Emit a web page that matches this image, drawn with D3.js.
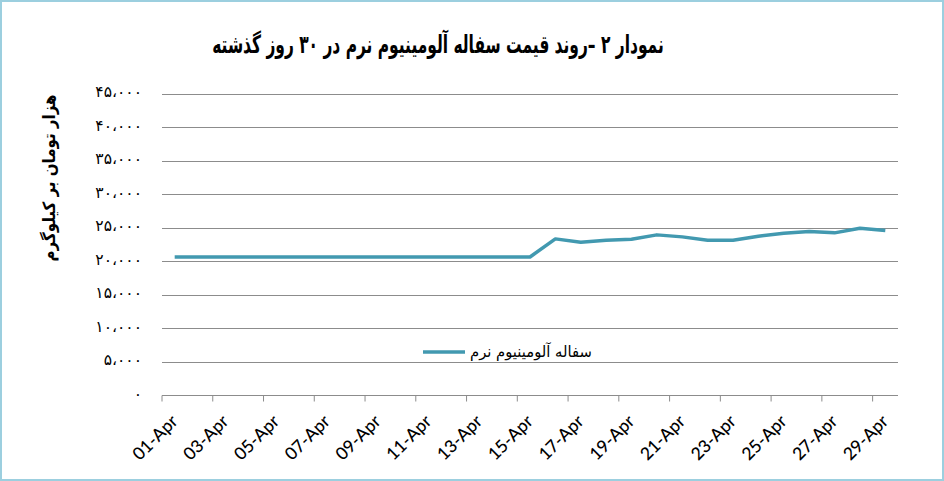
<!DOCTYPE html>
<html><head><meta charset="utf-8">
<script src="https://cdn.jsdelivr.net/npm/d3@7"></script>
<style>
body{margin:0;background:#fff;}
svg{display:block;}
</style></head>
<body>
<svg id="chart" width="944" height="481"></svg>
<script>
const dates = ["01-Apr","02-Apr","03-Apr","04-Apr","05-Apr","06-Apr","07-Apr","08-Apr","09-Apr","10-Apr",
"11-Apr","12-Apr","13-Apr","14-Apr","15-Apr","16-Apr","17-Apr","18-Apr","19-Apr","20-Apr",
"21-Apr","22-Apr","23-Apr","24-Apr","25-Apr","26-Apr","27-Apr","28-Apr","29-Apr"];
const prices = [20600,20600,20600,20600,20600,20600,20600,20600,20600,20600,
20600,20600,20600,20600,20600,23300,22800,23100,23250,23900,
23600,23100,23100,23700,24150,24400,24200,24900,24550];
const yTicks = [0,5000,10000,15000,20000,25000,30000,35000,40000,45000];
const labelDates = dates.filter((d,i)=>i%2===0);
const titleText = "نمودار ۲ –روند قیمت سفاله آلومینیوم نرم در ۳۰ روز گذشته";
const yTitle = "هزار تومان بر کیلوگرم";
const seriesName = "سفاله آلومینیوم نرم";

const svg = d3.select("#chart");
const W=944,H=481;
const pL=162,pR=898,pT=93.5,pB=395;
const persian = s => s.replace(/\d/g, d => "۰۱۲۳۴۵۶۷۸۹"[+d]);
const fmt = v => persian(d3.format(",")(v).replace(/,/g,"،"));

function fitScale(sel, target, tx, ty, rot){
  const w = sel.node().getComputedTextLength();
  const s = w>0 ? target/w : 1;
  sel.attr("transform", `translate(${tx},${ty}) rotate(${rot}) scale(${s},1)`);
}

// border
svg.append("rect").attr("x",1).attr("y",1).attr("width",W-2).attr("height",H-2)
  .attr("fill","#fff").attr("stroke","#9CCFDF").attr("stroke-width",2);

const x = d3.scaleBand().domain(dates).range([pL,pR]).padding(0);
const y = d3.scaleLinear().domain([0,45000]).range([pB,pT]);

// grid
svg.append("g").selectAll("line").data(yTicks.filter(v=>v>0)).join("line")
  .attr("x1",pL).attr("x2",pR)
  .attr("y1",d=>Math.round(y(d))+0.5).attr("y2",d=>Math.round(y(d))+0.5)
  .attr("stroke","#8C8C8C").attr("stroke-width",1);

// y labels
const yAxis = d3.axisLeft(y).tickValues(yTicks).tickFormat(fmt).tickSize(0).tickPadding(0);
const gy = svg.append("g").attr("transform",`translate(142,0)`).call(yAxis);
gy.select(".domain").remove();
gy.selectAll("text").attr("font-family","DejaVu Sans").attr("font-size",15.5)
  .attr("fill","#000").attr("letter-spacing","3.4px").attr("dy","0.2em");

// x axis
const xAxis = d3.axisBottom(x).tickValues(labelDates).tickSizeOuter(0).tickSize(6).tickFormat(d=>d);
const gx = svg.append("g").attr("transform",`translate(0,${pB+0.5})`).call(xAxis);
gx.select(".domain").attr("stroke","#8C8C8C").attr("d",`M${pL},0H${pR}`);
gx.selectAll(".tick line").attr("stroke","#8C8C8C").attr("x1",-x.bandwidth()/2).attr("x2",-x.bandwidth()/2);
gx.selectAll(".tick text")
  .attr("font-family","Lato").attr("font-size",17.5).attr("font-weight",500).attr("fill","#000")
  .attr("text-anchor","end").attr("y",0).attr("dy",0)
  .attr("transform","translate(4,27) rotate(-45)");

// line
const line = d3.line().x(d=>x(d.date)+x.bandwidth()/2).y(d=>y(d.v));
svg.append("path").datum(dates.map((d,i)=>({date:d,v:prices[i]})))
  .attr("d",line).attr("fill","none").attr("stroke","#4299B0")
  .attr("stroke-width",3.5).attr("stroke-linejoin","round");

// legend
svg.append("line").attr("x1",423).attr("x2",465).attr("y1",352).attr("y2",352)
  .attr("stroke","#4299B0").attr("stroke-width",3.5);
const lt = svg.append("text").attr("font-family","DejaVu Sans")
  .attr("font-size",15.5).attr("fill","#000").text(seriesName);
fitScale(lt,122,470,357,0);

// title
const tt = svg.append("text").attr("text-anchor","middle")
  .attr("direction","rtl").attr("font-family","DejaVu Sans").attr("font-weight","bold")
  .attr("font-size",25).attr("fill","#000").text(titleText);
fitScale(tt,452,438,53,0);

// y title
const yt = svg.append("text")
  .attr("text-anchor","middle").attr("direction","rtl").attr("font-family","DejaVu Sans").attr("font-weight","bold")
  .attr("font-size",17).attr("fill","#000").text(yTitle);
fitScale(yt,167,55,178,-90);
</script>
</body></html>
